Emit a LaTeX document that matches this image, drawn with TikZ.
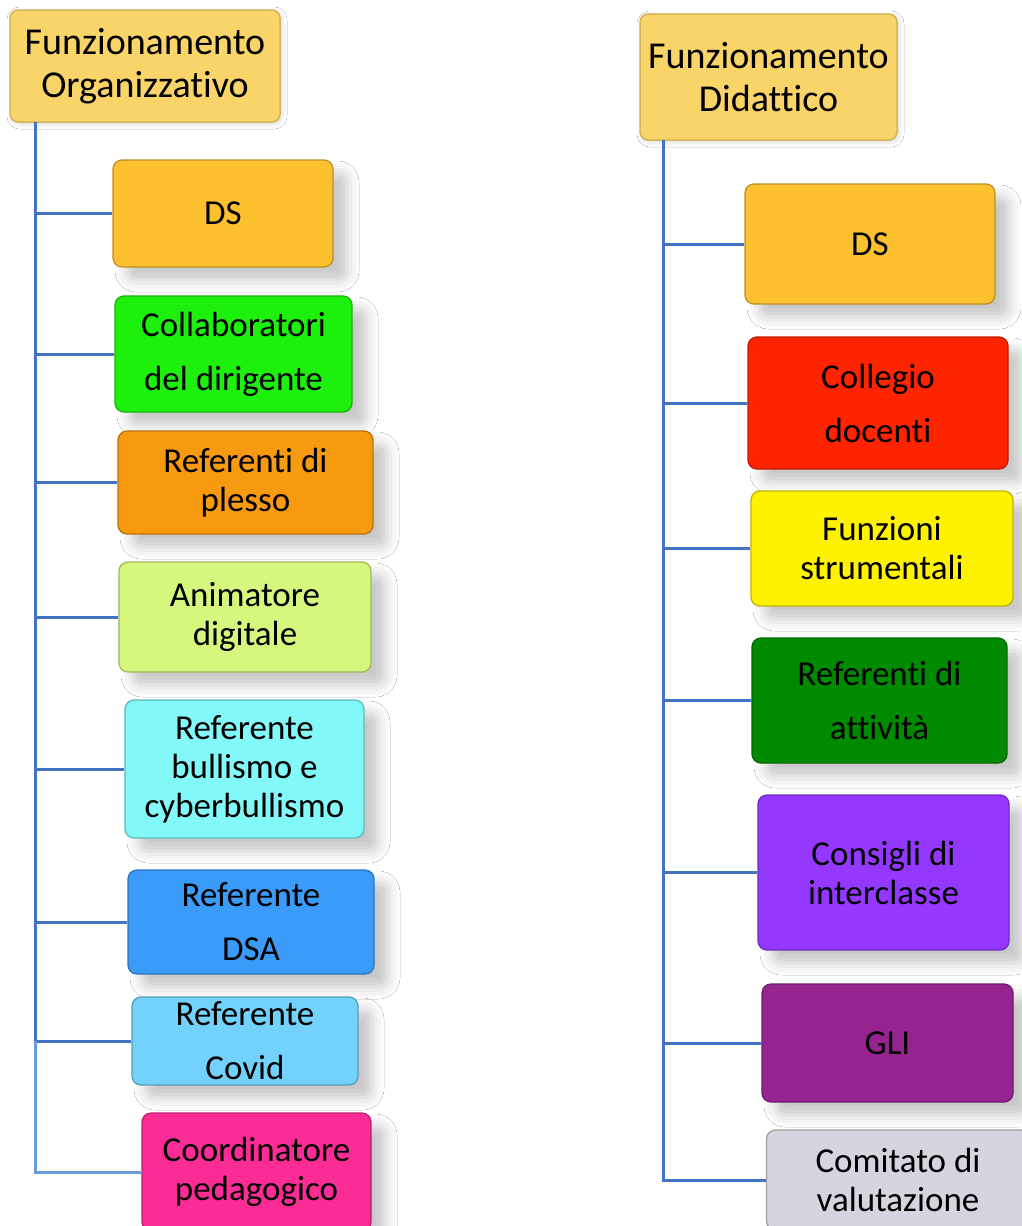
\documentclass[tikz,border=0pt]{standalone}
\usepackage{fontspec}
\setmainfont{Carlito}[Ligatures=CommonOff]
\usetikzlibrary{shadows.blur}
\definecolor{conn}{HTML}{4472C4}
\definecolor{connlight}{HTML}{6A9AD8}
\definecolor{ttl}{HTML}{F9D468}
\definecolor{cds}{HTML}{FDC02F}
\definecolor{ccol}{HTML}{1CF00C}
\definecolor{cple}{HTML}{F89A10}
\definecolor{cani}{HTML}{D6F77E}
\definecolor{cbul}{HTML}{82F8F8}
\definecolor{cdsa}{HTML}{3A9CF8}
\definecolor{ccov}{HTML}{72D2FC}
\definecolor{ccoo}{HTML}{FB2C96}
\definecolor{ccdo}{HTML}{FF2400}
\definecolor{cfun}{HTML}{FFF200}
\definecolor{catt}{HTML}{008A00}
\definecolor{ccon}{HTML}{9438FF}
\definecolor{cgli}{HTML}{952490}
\definecolor{ccom}{HTML}{D5D5DF}
\tikzset{
  titlebox/.style={rounded corners=8pt, fill=ttl, draw=ttl!85!black, line width=1.5pt,
    align=center, inner sep=0pt, font=\fontsize{38pt}{43pt}\selectfont,
    blur shadow={shadow xshift=2pt, shadow yshift=-2pt, shadow blur radius=5pt, shadow opacity=15}},
  childbox/.style={rounded corners=9pt, fill=#1, draw=#1!75!black, line width=1.3pt,
    align=center, inner sep=0pt, font=\fontsize{35pt}{39pt}\selectfont,
    blur shadow={shadow xshift=14pt, shadow yshift=-13pt, shadow blur radius=12pt, shadow opacity=22}},
  link/.style={draw=conn, line width=3pt},
  linklight/.style={draw=connlight, line width=3pt},
}
\begin{document}
\begin{tikzpicture}[x=1pt,y=-1pt]
\useasboundingbox[fill=white] (0,0) rectangle (1021,1226);

% ---------- left column ----------
\node[titlebox, minimum width=270pt, minimum height=112pt] (tl) at (145,66) {Funzionamento\\Organizzativo};
\coordinate (tlb) at (35,122);

\node[childbox=cds, minimum width=220pt, minimum height=107pt] (l1) at (223,213.5) {DS};
\node[childbox=ccol, minimum width=237pt, minimum height=116pt] (l2) at (233.5,354) {Collaboratori\\[15pt]del dirigente};
\node[childbox=cple, minimum width=255pt, minimum height=103pt] (l3) at (245.5,482.5) {Referenti di\\plesso};
\node[childbox=cani, minimum width=252pt, minimum height=110pt] (l4) at (245,617) {Animatore\\digitale};
\node[childbox=cbul, minimum width=239pt, minimum height=138pt] (l5) at (244.5,769) {Referente\\bullismo e\\cyberbullismo};
\node[childbox=cdsa, minimum width=246pt, minimum height=104pt] (l6) at (251,922) {Referente\\[15pt]DSA};
\node[childbox=ccov, minimum width=226pt, minimum height=88pt] (l7) at (245,1041) {Referente\\[15pt]Covid};
\node[childbox=ccoo, minimum width=229pt, minimum height=118pt] (l8) at (256.5,1172) {Coordinatore\\pedagogico};

\foreach \n in {l1,l2,l3,l4,l5,l6,l7}{
  \draw[link] (tlb) |- (\n.west);
}
\draw[linklight] (l7.west -| tlb) |- (l8.west);

% ---------- right column ----------
\node[titlebox, minimum width=257pt, minimum height=126pt] (tr) at (768.5,77) {Funzionamento\\Didattico};
\coordinate (trb) at (663,140);

\node[childbox=cds, minimum width=250pt, minimum height=120pt] (r1) at (870,244) {DS};
\node[childbox=ccdo, minimum width=260pt, minimum height=132pt] (r2) at (878,403) {Collegio\\[15pt]docenti};
\node[childbox=cfun, minimum width=262pt, minimum height=115pt] (r3) at (882,548.5) {Funzioni\\strumentali};
\node[childbox=catt, minimum width=255pt, minimum height=125pt] (r4) at (879.5,700.5) {Referenti di\\[15pt]attività};
\node[childbox=ccon, minimum width=251pt, minimum height=155pt] (r5) at (883.5,872.5) {Consigli di\\interclasse};
\node[childbox=cgli, minimum width=251pt, minimum height=118pt] (r6) at (887.5,1043) {GLI};
\node[childbox=ccom, minimum width=263pt, minimum height=100pt] (r7) at (898,1180) {Comitato di\\valutazione};

\foreach \n in {r1,r2,r3,r4,r5,r6,r7}{
  \draw[link] (trb) |- (\n.west);
}
\end{tikzpicture}
\end{document}
